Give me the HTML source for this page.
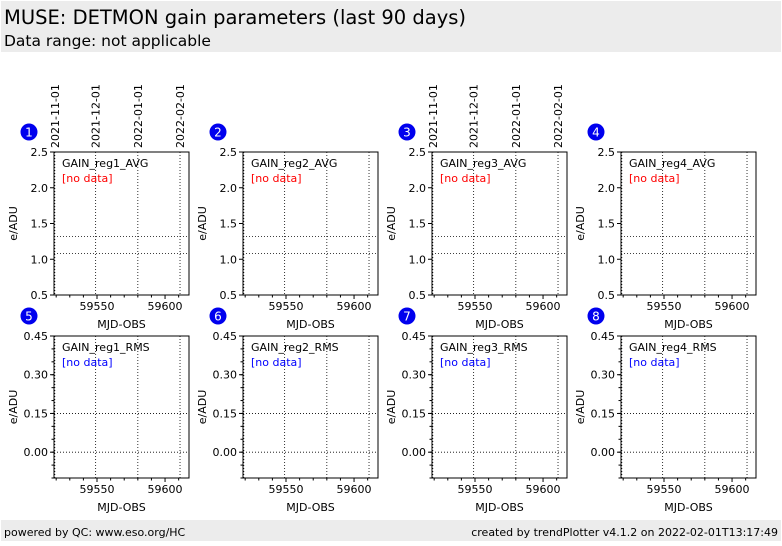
<!DOCTYPE html>
<html><head><meta charset="utf-8"><style>
body{margin:0;background:#fff;font-family:"DejaVu Sans","Liberation Sans",sans-serif;}
</style></head><body>
<svg width="782" height="542" xmlns="http://www.w3.org/2000/svg" font-family="DejaVu Sans, Liberation Sans, sans-serif">
<rect x="1" y="1" width="780" height="51" fill="#ececec"/>
<text x="4" y="24" font-size="19.5">MUSE: DETMON gain parameters (last 90 days)</text>
<text x="4" y="46" font-size="15.5">Data range: not applicable</text>
<rect x="1" y="520" width="780" height="21" fill="#ececec"/>
<text x="4" y="536" font-size="11">powered by QC: www.eso.org/HC</text>
<text x="778" y="536" font-size="11" text-anchor="end">created by trendPlotter v4.1.2 on 2022-02-01T13:17:49</text>
<g id="plots"></g>
</svg>
<script>
const panelNames=["GAIN_reg1_AVG","GAIN_reg2_AVG","GAIN_reg3_AVG","GAIN_reg4_AVG","GAIN_reg1_RMS","GAIN_reg2_RMS","GAIN_reg3_RMS","GAIN_reg4_RMS"];
const xTicks=[59550,59600];
const dateLabels=["2021-11-01","2021-12-01","2022-01-01","2022-02-01"];
const dateMJD=[59519,59549,59580,59611];
const avgTicks=["0.5","1.0","1.5","2.0","2.5"];
const rmsTicks=["0.00","0.15","0.30","0.45"];
const avgRefLines=[1.32,1.08];
const rmsRefLines=[0.15,0.0];
const NS="http://www.w3.org/2000/svg";
const g=document.getElementById('plots');
function mk(t,a,p){const e=document.createElementNS(NS,t);for(const k in a)e.setAttribute(k,a[k]);(p||g).appendChild(e);return e;}
const X0=59518.4,X1=59617.6,W=135;
for(let i=0;i<8;i++){
 const col=i%4,row=Math.floor(i/4);
 const L=54+col*189,T=row?336:152,B=row?478:295;
 const ymin=row?-0.1:0.5,ymax=row?0.45:2.5;
 const xs=v=>L+(v-X0)/(X1-X0)*W, ys=v=>B-(v-ymin)/(ymax-ymin)*(B-T);
 const pg=mk('g',{});
 
 
 const bc=mk('circle',{cx:L-25,cy:T-20,r:8.5,fill:'#0000ee'},pg);
 
 const bt=mk('text',{x:L-25,y:T-15.5,'font-size':12,fill:'#fff','text-anchor':'middle'},pg);bt.textContent=i+1;
 dateMJD.forEach((m,k)=>{
  const x=xs(m);
  const gl=mk('line',{x1:x,x2:x,y1:T,y2:B,stroke:'#000','stroke-width':0.8,'stroke-dasharray':'1,2'},pg);
  
  if(row===0&&(col===0||col===2)){
   const t=mk('text',{x:0,y:0,'font-size':11,transform:`translate(${x+4},${T-4}) rotate(-90)`},pg);
   
   t.textContent=dateLabels[k];
  }
 });
 (row?rmsRefLines:avgRefLines).forEach(v=>{
  const y=ys(v);
  const rl=mk('line',{x1:L,x2:L+W,y1:y,y2:y,stroke:'#000','stroke-width':0.8,'stroke-dasharray':'1,2'},pg);
  
 });
 const fr=mk('rect',{x:L,y:T,width:W,height:B-T,fill:'none',stroke:'#000','stroke-width':1},pg);
 
 for(let m=59520;m<=59610;m+=10){const x=xs(m);mk('line',{x1:x,x2:x,y1:B,y2:B+(m%50===0?4:2.5),stroke:'#000'},pg);}
 xTicks.forEach(v=>{const t=mk('text',{x:xs(v),y:B+15,'font-size':11,'text-anchor':'middle'},pg);t.textContent=v;
  });
 const xl=mk('text',{x:L+W/2,y:B+33,'font-size':11,'text-anchor':'middle'},pg);xl.textContent='MJD-OBS';
 
 const tk=row?rmsTicks:avgTicks;
 tk.forEach(s=>{const y=ys(parseFloat(s));mk('line',{x1:L-4,x2:L,y1:y,y2:y,stroke:'#000'},pg);
  const t=mk('text',{x:L-6,y:y+4,'font-size':11,'text-anchor':'end'},pg);t.textContent=s;
  });
 if(row){for(let v=-0.1;v<0.45;v+=0.05){const y=ys(v);mk('line',{x1:L-2.5,x2:L,y1:y,y2:y,stroke:'#000'},pg);}}
 const yl=mk('text',{x:0,y:0,'font-size':11,'text-anchor':'middle',transform:`translate(${L-37},${(T+B)/2}) rotate(-90)`},pg);
 yl.textContent='e/ADU';
 const nm=mk('text',{x:L+8,y:T+15,'font-size':11},pg);nm.textContent=panelNames[i];
 
 const nd=mk('text',{x:L+8,y:T+30,'font-size':11,fill:row?'#0000ff':'#ff0000'},pg);nd.textContent='[no data]';
 
}
</script>
</body></html>
